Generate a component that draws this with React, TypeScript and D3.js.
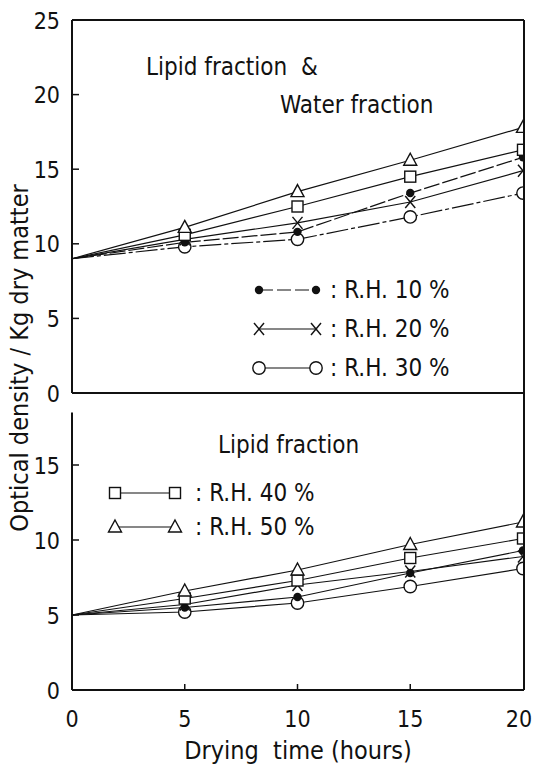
import React from "react";
import * as d3 from "d3";

// Drying time (hours)
const hours = [0, 5, 10, 15, 20];

// Upper panel: lipid + water fraction
const topRH10 = [9, 10.1, 10.8, 13.4, 15.8];
const topRH20 = [9, 10.3, 11.4, 12.8, 14.9];
const topRH30 = [9, 9.8, 10.3, 11.8, 13.4];
const topRH40 = [9, 10.6, 12.5, 14.5, 16.3];
const topRH50 = [9, 11.1, 13.5, 15.6, 17.8];

// Lower panel: lipid fraction
const botRH10 = [5, 5.5, 6.2, 7.8, 9.3];
const botRH20 = [5, 5.7, 7.0, 7.9, 8.9];
const botRH30 = [5, 5.2, 5.8, 6.9, 8.1];
const botRH40 = [5, 6.1, 7.3, 8.8, 10.1];
const botRH50 = [5, 6.6, 8.0, 9.7, 11.2];

const xTicks = [0, 5, 10, 15, 20];
const topYTicks = [0, 5, 10, 15, 20, 25];
const botYTicks = [0, 5, 10, 15];

type Marker = "dot" | "cross" | "circle" | "square" | "triangle";

const FONT = "'DejaVu Sans Condensed', 'DejaVu Sans', sans-serif";
const INK = "#111";

const x = d3.scaleLinear().domain([0, 20]).range([72, 523]);
const yTop = d3.scaleLinear().domain([0, 25]).range([393, 20]);
const yBot = d3.scaleLinear().domain([0, 15]).range([690, 465]);

function MarkerShape({ kind, cx, cy }: { kind: Marker; cx: number; cy: number }) {
  const s = { stroke: INK, strokeWidth: 1.4 };
  if (kind === "dot") return <circle cx={cx} cy={cy} r={4.2} fill={INK} />;
  if (kind === "circle") return <circle cx={cx} cy={cy} r={6.2} fill="#fff" {...s} />;
  if (kind === "square") return <rect x={cx - 5.5} y={cy - 5.5} width={11} height={11} fill="#fff" {...s} />;
  if (kind === "triangle") {
    const p = d3.path();
    p.moveTo(cx, cy - 7);
    p.lineTo(cx + 6.5, cy + 5);
    p.lineTo(cx - 6.5, cy + 5);
    p.closePath();
    return <path d={p.toString()} fill="#fff" {...s} />;
  }
  return (
    <g {...s}>
      <line x1={cx - 5} y1={cy - 6} x2={cx + 5} y2={cy + 6} />
      <line x1={cx - 5} y1={cy + 6} x2={cx + 5} y2={cy - 6} />
    </g>
  );
}

function Series({ values, y, dash }: { values: number[]; y: d3.ScaleLinear<number, number>; dash?: string }) {
  const line = d3.line<number>().x((_, i) => x(hours[i])).y((v) => y(v));
  return <path d={line(values) ?? ""} fill="none" stroke={INK} strokeWidth={1.2} strokeDasharray={dash} />;
}

function Markers({ values, y, kind }: { values: number[]; y: d3.ScaleLinear<number, number>; kind: Marker }) {
  return (
    <g>
      {values.map((v, i) =>
        hours[i] === 0 ? null : <MarkerShape key={i} kind={kind} cx={x(hours[i])} cy={y(v)} />
      )}
    </g>
  );
}

function LegendRow({ kind, x1, x2, cy, label, tx, dash }: { kind: Marker; x1: number; x2: number; cy: number; label: string; tx: number; dash?: string }) {
  return (
    <g>
      <line x1={x1} y1={cy} x2={x2} y2={cy} stroke={INK} strokeWidth={1.2} strokeDasharray={dash} />
      <MarkerShape kind={kind} cx={x1} cy={cy} />
      <MarkerShape kind={kind} cx={x2} cy={cy} />
      <text x={tx} y={cy + 8} fontSize={24} fontFamily={FONT} fill={INK}>{label}</text>
    </g>
  );
}

export default function App() {
  const topSeries: [number[], Marker, string | undefined][] = [
    [topRH30, "circle", "22,3,4,3"],
    [topRH10, "dot", "16,3"],
    [topRH20, "cross", undefined],
    [topRH40, "square", undefined],
    [topRH50, "triangle", undefined],
  ];
  const botSeries: [number[], Marker, string | undefined][] = [
    [botRH30, "circle", undefined],
    [botRH10, "dot", undefined],
    [botRH20, "cross", undefined],
    [botRH40, "square", undefined],
    [botRH50, "triangle", undefined],
  ];
  const axis = { stroke: INK, strokeWidth: 2 };
  const right = x(20) + 1;
  return (
    <svg width={533} height={765} style={{ position: "absolute", left: 0, top: 0, background: "#fff" }}>
      <defs>
        <clipPath id="plotClip">
          <rect x={60} y={10} width={x(20) - 60} height={690} />
        </clipPath>
      </defs>

      {/* frame */}
      <line x1={x(0)} y1={yTop(25)} x2={right} y2={yTop(25)} {...axis} />
      <line x1={x(0)} y1={yTop(25)} x2={x(0)} y2={yTop(0)} {...axis} />
      <line x1={x(0)} y1={yTop(0)} x2={right} y2={yTop(0)} {...axis} />
      <line x1={right} y1={yTop(25)} x2={right} y2={yBot(0)} {...axis} />
      <line x1={x(0)} y1={yBot(18.5)} x2={x(0)} y2={yBot(0)} {...axis} />
      <line x1={x(0)} y1={yBot(0)} x2={right} y2={yBot(0)} {...axis} />

      {/* y ticks and labels */}
      {topYTicks.map((t) => (
        <g key={"ty" + t}>
          {t > 0 && t < 25 && <line x1={x(0)} x2={x(0) + 7} y1={yTop(t)} y2={yTop(t)} stroke={INK} strokeWidth={1.5} />}
          <text x={60} y={yTop(t) + 8.5} textAnchor="end" fontSize={23} fontFamily={FONT} fill={INK}>{t}</text>
        </g>
      ))}
      {botYTicks.map((t) => (
        <g key={"by" + t}>
          {t > 0 && <line x1={x(0)} x2={x(0) + 7} y1={yBot(t)} y2={yBot(t)} stroke={INK} strokeWidth={1.5} />}
          <text x={60} y={yBot(t) + 8.5} textAnchor="end" fontSize={23} fontFamily={FONT} fill={INK}>{t}</text>
        </g>
      ))}

      {/* x ticks and labels */}
      {xTicks.map((t) => (
        <g key={"x" + t}>
          {t > 0 && t < 20 && <line x1={x(t)} x2={x(t)} y1={yBot(0)} y2={yBot(0) - 6} stroke={INK} strokeWidth={1.5} />}
          <text x={x(t) + (t === 20 ? -4 : 0)} y={727} textAnchor="middle" fontSize={23} fontFamily={FONT} fill={INK}>{t}</text>
        </g>
      ))}

      {/* axis titles */}
      <text x={298} y={759} textAnchor="middle" fontSize={25} fontFamily={FONT} fill={INK} xmlSpace="preserve">Drying  time (hours)</text>
      <text transform="translate(28,358) rotate(-90)" textAnchor="middle" fontSize={25} fontFamily={FONT} fill={INK}>Optical density / Kg dry matter</text>

      {/* panel titles */}
      <text x={146} y={75} fontSize={24} fontFamily={FONT} fill={INK} xmlSpace="preserve">Lipid fraction  &amp;</text>
      <text x={280} y={113} fontSize={24} fontFamily={FONT} fill={INK}>Water fraction</text>
      <text x={218} y={453} fontSize={24} fontFamily={FONT} fill={INK}>Lipid fraction</text>

      {/* data */}
      <g clipPath="url(#plotClip)">
        {topSeries.map(([v, , d], i) => <Series key={"tl" + i} values={v} y={yTop} dash={d} />)}
        {botSeries.map(([v, , d], i) => <Series key={"bl" + i} values={v} y={yBot} dash={d} />)}
        {topSeries.map(([v, k], i) => <Markers key={"tm" + i} values={v} y={yTop} kind={k} />)}
        {botSeries.map(([v, k], i) => <Markers key={"bm" + i} values={v} y={yBot} kind={k} />)}
      </g>

      {/* legends */}
      <LegendRow kind="dot" x1={259} x2={316} cy={290} label=": R.H. 10 %" tx={330} dash="14,4" />
      <LegendRow kind="cross" x1={259} x2={316} cy={329} label=": R.H. 20 %" tx={330} />
      <LegendRow kind="circle" x1={259} x2={316} cy={368} label=": R.H. 30 %" tx={330} />
      <LegendRow kind="square" x1={115} x2={175} cy={493} label=": R.H. 40 %" tx={195} />
      <LegendRow kind="triangle" x1={115} x2={175} cy={527} label=": R.H. 50 %" tx={195} />
    </svg>
  );
}
